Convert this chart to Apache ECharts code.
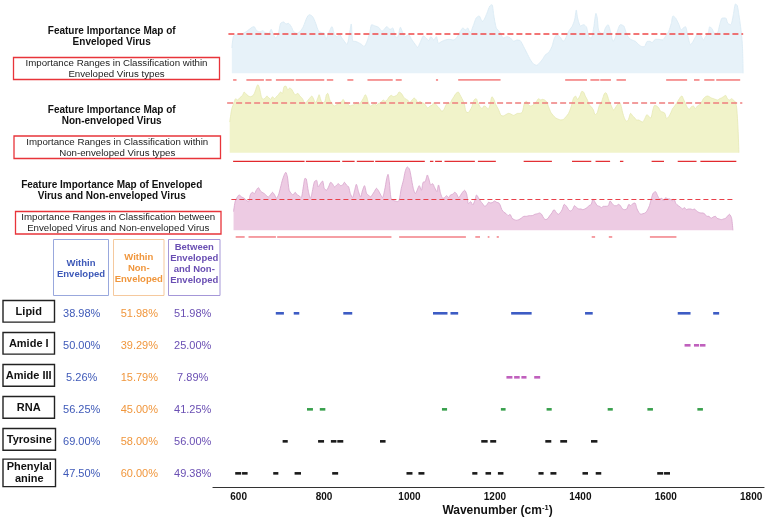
<!DOCTYPE html>
<html><head><meta charset="utf-8">
<script src="https://cdn.jsdelivr.net/npm/echarts@6/dist/echarts.min.js"></script>
<style>html,body{margin:0;padding:0;background:#fff}#c{width:767px;height:522px}</style>
</head><body><div id="c"></div>
<script>
// ---------- DATA ----------
const envCurve = [[584,38],[588,56],[595,58],[607,59],[619,63],[631,69],[636,70],[642,64],[650,62],[656,64],[662,61],[670,60],[676,66],[681,58],[687,53],[693,60],[698,75],[705,77],[711,74],[716,75],[723,70],[728,63],[736,60],[744,63],[751,70],[759,83],[765,88],[773,85],[780,75],[787,63],[794,61],[800,60],[804,51],[810,60],[818,70],[823,60],[829,55],[836,58],[841,53],[847,48],[853,43],[859,60],[863,74],[867,48],[872,48],[880,46],[888,43],[893,40],[900,48],[906,60],[911,73],[919,71],[927,69],[935,63],[940,66],[946,70],[954,66],[960,68],[966,55],[971,54],[978,69],[984,60],[989,55],[997,58],[1005,50],[1013,43],[1018,39],[1024,46],[1032,56],[1038,53],[1044,49],[1049,55],[1056,50],[1062,55],[1067,45],[1075,48],[1083,50],[1091,51],[1102,50],[1110,54],[1118,63],[1124,68],[1130,65],[1135,68],[1141,61],[1149,73],[1155,83],[1162,86],[1169,78],[1174,81],[1180,90],[1187,101],[1192,103],[1196,88],[1202,68],[1210,62],[1219,53],[1227,55],[1235,53],[1243,48],[1250,50],[1258,49],[1266,40],[1274,30],[1282,20],[1289,14],[1296,12],[1301,14],[1309,20],[1317,28],[1324,31],[1332,40],[1338,53],[1344,58],[1352,54],[1358,48],[1363,51],[1371,63],[1379,70],[1385,80],[1389,95],[1392,83],[1399,71],[1406,73],[1413,69],[1418,55],[1424,53],[1430,70],[1435,90],[1438,83],[1441,65],[1447,60],[1452,60],[1457,68],[1463,73],[1469,63],[1475,48],[1480,53],[1486,65],[1492,73],[1500,71],[1506,60],[1512,53],[1519,50],[1527,48],[1535,43],[1543,40],[1548,40],[1555,48],[1561,48],[1566,46],[1574,51],[1582,51],[1590,50],[1597,55],[1605,63],[1611,75],[1615,86],[1621,83],[1629,73],[1634,65],[1639,68],[1644,70],[1650,55],[1656,43],[1662,48],[1668,55],[1673,60],[1679,58],[1686,50],[1691,55],[1697,60],[1701,70],[1707,66],[1712,60],[1718,60],[1725,75],[1730,83],[1738,83],[1743,75],[1750,73],[1756,88],[1761,104],[1765,102],[1769,88],[1773,70],[1777,45],[1779,0]];
const nonCurve = [[579,46],[584,66],[589,75],[593,81],[597,79],[602,82],[609,86],[613,91],[616,89],[623,85],[628,84],[634,86],[638,91],[642,99],[645,102],[649,96],[653,84],[657,80],[662,82],[666,85],[671,82],[675,80],[679,84],[684,81],[688,84],[693,87],[698,91],[702,89],[706,99],[710,100],[715,94],[719,97],[724,95],[729,89],[733,87],[738,89],[743,85],[749,81],[755,74],[760,77],[765,81],[771,85],[776,79],[780,75],[785,82],[788,87],[792,79],[796,75],[801,76],[805,87],[808,89],[813,79],[818,74],[823,70],[829,72],[835,75],[840,76],[844,80],[849,75],[854,74],[860,70],[864,71],[870,72],[875,75],[880,72],[886,76],[891,81],[896,87],[899,84],[903,75],[908,70],[913,72],[918,74],[922,71],[927,74],[932,75],[938,79],[942,77],[948,80],[952,84],[957,86],[961,84],[966,85],[971,87],[975,91],[980,89],[985,84],[989,81],[995,79],[1000,75],[1005,79],[1010,82],[1014,80],[1019,75],[1024,77],[1028,75],[1033,74],[1038,70],[1042,67],[1047,70],[1052,71],[1056,75],[1061,72],[1066,69],[1070,66],[1075,62],[1080,65],[1084,71],[1089,75],[1094,74],[1098,79],[1103,84],[1108,89],[1113,91],[1117,87],[1122,81],[1127,74],[1131,62],[1136,60],[1141,64],[1145,69],[1150,79],[1155,81],[1159,75],[1164,69],[1169,66],[1173,70],[1178,69],[1183,65],[1187,71],[1192,84],[1197,79],[1201,72],[1207,65],[1213,56],[1218,55],[1224,57],[1231,59],[1236,58],[1242,56],[1246,57],[1252,59],[1257,59],[1263,61],[1268,75],[1273,77],[1277,72],[1282,70],[1287,71],[1292,74],[1296,77],[1301,81],[1306,79],[1310,80],[1315,79],[1320,76],[1324,69],[1330,60],[1335,56],[1341,52],[1348,50],[1353,49],[1359,50],[1365,54],[1371,59],[1377,69],[1382,81],[1387,85],[1392,80],[1398,86],[1402,92],[1406,91],[1410,85],[1415,79],[1419,72],[1424,69],[1429,64],[1433,57],[1438,60],[1443,71],[1448,76],[1452,84],[1455,89],[1458,90],[1462,85],[1466,77],[1471,70],[1476,64],[1480,67],[1485,72],[1490,75],[1493,72],[1497,61],[1502,51],[1507,47],[1511,50],[1516,59],[1521,55],[1526,52],[1530,49],[1535,49],[1540,47],[1544,46],[1549,51],[1554,57],[1558,55],[1563,52],[1568,64],[1572,71],[1577,70],[1582,67],[1586,62],[1591,61],[1596,59],[1600,51],[1605,54],[1610,60],[1614,66],[1619,70],[1624,75],[1628,79],[1633,84],[1636,85],[1639,81],[1644,74],[1649,67],[1653,65],[1658,69],[1663,70],[1667,66],[1672,70],[1677,72],[1682,76],[1686,81],[1691,84],[1696,85],[1700,84],[1705,82],[1710,81],[1714,80],[1719,79],[1724,81],[1728,82],[1733,84],[1738,86],[1742,81],[1747,79],[1752,81],[1756,79],[1761,76],[1764,66],[1767,36],[1769,0]];
const betweenCurve = [[588,28],[592,44],[597,50],[601,53],[607,50],[613,48],[618,45],[623,43],[627,53],[632,57],[637,55],[641,60],[646,64],[651,59],[655,57],[660,55],[665,52],[669,50],[674,53],[679,57],[684,53],[688,48],[693,53],[698,65],[702,75],[707,84],[710,87],[714,80],[718,60],[723,55],[727,53],[732,57],[737,53],[741,52],[746,49],[751,65],[755,78],[758,77],[763,58],[768,48],[772,58],[777,73],[782,75],[786,65],[791,70],[796,74],[800,63],[805,60],[810,65],[815,72],[819,70],[824,65],[829,68],[833,70],[838,67],[843,68],[847,72],[852,68],[857,65],[861,55],[866,49],[871,60],[875,69],[880,58],[885,50],[889,59],[894,67],[899,55],[903,53],[908,50],[913,54],[917,58],[922,63],[927,59],[932,53],[936,49],[941,60],[946,78],[949,84],[952,73],[956,48],[961,45],[966,44],[971,43],[975,45],[980,63],[985,75],[989,88],[994,95],[999,92],[1003,80],[1008,63],[1013,55],[1017,60],[1022,67],[1027,60],[1031,72],[1036,73],[1041,83],[1044,78],[1049,68],[1053,70],[1058,64],[1063,58],[1067,68],[1072,55],[1077,48],[1081,49],[1086,52],[1091,49],[1095,53],[1100,54],[1105,57],[1109,55],[1114,49],[1119,53],[1123,57],[1128,60],[1133,54],[1137,40],[1142,43],[1147,38],[1152,45],[1156,53],[1161,48],[1166,43],[1170,40],[1175,36],[1180,38],[1184,42],[1189,41],[1194,42],[1198,44],[1203,42],[1208,41],[1211,38],[1215,31],[1220,27],[1225,25],[1230,22],[1234,24],[1239,18],[1244,16],[1249,15],[1255,16],[1260,18],[1267,21],[1273,21],[1279,22],[1286,22],[1292,24],[1299,25],[1303,26],[1308,24],[1313,18],[1318,16],[1323,18],[1327,22],[1332,26],[1337,31],[1342,27],[1347,24],[1351,26],[1356,31],[1361,39],[1366,36],[1371,31],[1375,29],[1380,31],[1385,37],[1390,34],[1395,32],[1400,32],[1404,31],[1409,32],[1414,34],[1419,37],[1424,39],[1428,47],[1433,42],[1438,37],[1443,36],[1448,34],[1452,36],[1459,36],[1464,37],[1468,44],[1473,40],[1478,37],[1483,37],[1488,39],[1492,37],[1497,32],[1502,31],[1507,32],[1512,39],[1516,37],[1521,40],[1526,41],[1531,32],[1536,26],[1540,24],[1545,25],[1550,26],[1555,30],[1560,37],[1565,49],[1569,56],[1574,58],[1579,52],[1584,47],[1589,48],[1593,44],[1598,49],[1603,47],[1608,47],[1613,44],[1617,47],[1622,40],[1627,37],[1632,35],[1637,32],[1642,34],[1646,31],[1651,32],[1656,32],[1661,31],[1665,32],[1670,29],[1675,27],[1680,26],[1685,26],[1690,24],[1694,21],[1699,21],[1704,18],[1709,20],[1714,21],[1718,18],[1723,17],[1728,16],[1733,17],[1738,18],[1742,21],[1747,24],[1752,18],[1755,0]];

const envThreshold = 59, nonThreshold = 74.5, betweenThreshold = 46.5;
const envThresholdSpan = [576, 1779], nonThresholdSpan = [573, 1777], betweenThresholdSpan = [583, 1760];

const envRanges = [[587,595],[618,659],[663,677],[687,730],[733,800],[806,821],[854,868],[901,960],[967,981],[1061,1066],[1113,1212],[1363,1414],[1422,1443],[1445,1470],[1483,1505],[1599,1648],[1664,1677],[1688,1712],[1716,1772]];
const nonRanges = [[587,754],[757,837],[842,871],[876,916],[919,1035],[1047,1055],[1059,1075],[1081,1152],[1159,1201],[1266,1332],[1379,1424],[1434,1468],[1491,1499],[1565,1594],[1626,1670],[1679,1763]];
const betweenRanges = [[593,614],[623,687],[690,957],[975,1131],[1153,1164],[1182,1186],[1203,1208],[1425,1433],[1465,1473],[1561,1623]];

const rowLabels = ['Lipid','Amide I','Amide III','RNA','Tyrosine','Phenylal\nanine'];
const withinEnvPct = ['38.98%','50.00%','5.26%','56.25%','69.00%','47.50%'];
const withinNonPct = ['51.98%','39.29%','15.79%','45.00%','58.00%','60.00%'];
const betweenPct = ['51.98%','25.00%','7.89%','41.25%','56.00%','49.38%'];

const lipidRanges = [[687,706],[729,742],[845,866],[1055,1089],[1096,1114],[1238,1286],[1411,1429],[1628,1658],[1711,1725]];
const amideIRanges = [[1644,1658],[1666,1678],[1680,1693]];
const amideIIIRanges = [[1227,1241],[1245,1258],[1262,1274],[1292,1306]];
const rnaRanges = [[760,774],[790,803],[1076,1088],[1214,1225],[1321,1333],[1464,1476],[1557,1570],[1674,1687]];
const tyrosineRanges = [[703,715],[786,800],[816,829],[831,845],[931,944],[1168,1183],[1189,1203],[1318,1332],[1353,1369],[1425,1440]];
const pheRanges = [[592,606],[608,621],[681,693],[731,746],[819,833],[993,1007],[1021,1035],[1147,1159],[1178,1191],[1207,1220],[1302,1314],[1330,1344],[1405,1418],[1436,1449],[1580,1594],[1596,1610]];

const xTickStep = 200;
const titleTexts = ['Feature Importance Map of\nEnveloped Virus','Feature Importance Map of\nNon-enveloped Virus','Feature Importance Map of Enveloped\nVirus and Non-enveloped Virus'];
const captionTexts = ['Importance Ranges in Classification within\nEnveloped Virus types','Importance Ranges in Classification within\nNon-enveloped Virus types','Importance Ranges in Classification between\nEnveloped Virus and Non-enveloped Virus'];
const columnHeaders = ['Within\nEnveloped','Within\nNon-\nEnveloped','Between\nEnveloped\nand Non-\nEnveloped'];

// ---------- CHART ----------
const FONT = '"Liberation Sans", Arial, sans-serif';
const chart = echarts.init(document.getElementById('c'), null, {renderer:'canvas'});
const XMIN = 540, XMAX = 1830, GL = 213, GW = 552;

function rangeSeries(ranges, level, idx, color, width) {
  return {
    type:'custom', xAxisIndex: idx, yAxisIndex: idx, silent:true, clip:false,
    data: ranges.map(r => [r[0], r[1], level]),
    encode: {x:[0,1], y:2},
    renderItem: (p, api) => {
      const a = api.coord([api.value(0), api.value(2)]);
      const b = api.coord([api.value(1), api.value(2)]);
      return {type:'line', shape:{x1:a[0], y1:a[1], x2:b[0], y2:b[1]}, style:{stroke:color, lineWidth:width}};
    }
  };
}
function areaSeries(curve, idx, fill, edge, thr, span, dashColor, dashW, dashType) {
  return {
    type:'line', xAxisIndex: idx, yAxisIndex: idx, data: curve, smooth:0.25, symbol:'none', silent:true,
    lineStyle:{color: edge, width: 0.8}, areaStyle:{color: fill, opacity:1},
    markLine:{symbol:'none', silent:true, label:{show:false}, lineStyle:{color: dashColor, width: dashW, type: dashType},
      data:[[{coord:[span[0], thr]},{coord:[span[1], thr]}]]}
  };
}

const grids = [
  {left:GL, width:GW, top:3.3, height:78},
  {left:GL, width:GW, top:82.7, height:79.33},
  {left:GL, width:GW, top:160.3, height:78},
  {left:GL, width:GW, top:297.3, height:189.5}
];
const hiddenX = i => ({type:'value', gridIndex:i, min:XMIN, max:XMAX, show:false});
const option = {
  animation:false,
  grid: grids,
  xAxis: [hiddenX(0), hiddenX(1), hiddenX(2), {
    type:'value', gridIndex:3, min:XMIN, max:XMAX, interval:10,
    splitLine:{show:false}, axisTick:{show:false},
    axisLine:{show:true, onZero:false, lineStyle:{color:'#333', width:1.2}},
    axisLabel:{margin:5, color:'#111', fontWeight:'bold', fontSize:10, fontFamily:FONT,
      formatter: v => (v % xTickStep === 0 && v >= 600 && v <= 1800) ? String(v) : ''},
    name:'Wavenumber (cm{s|-1})', nameLocation:'middle', nameGap:17,
    nameTextStyle:{color:'#111', fontWeight:'bold', fontSize:12, fontFamily:FONT, padding:[0,0,0,18],
      rich:{s:{fontSize:7.5, fontWeight:'bold', fontFamily:FONT, verticalAlign:'top', padding:[0,0,6,0], color:'#111'}}}
  }],
  yAxis: [
    {type:'value', gridIndex:0, min:-12, max:105, show:false},
    {type:'value', gridIndex:1, min:-14, max:105, show:false},
    {type:'value', gridIndex:2, min:-12, max:105, show:false},
    {type:'value', gridIndex:3, min:-0.5, max:5.42, inverse:true, show:false}
  ],
  series: [
    areaSeries(envCurve, 0, '#e7f2f9', '#d8eaf4', envThreshold, envThresholdSpan, '#f04848', 1.5, [6,3]),
    areaSeries(nonCurve, 1, '#f1f3ca', '#e6e9b3', nonThreshold, nonThresholdSpan, '#ee7e7e', 1.5, [6,3]),
    areaSeries(betweenCurve, 2, '#edcbe3', '#d7a3cb', betweenThreshold, betweenThresholdSpan, '#e8404a', 1, [5,3]),
    rangeSeries(envRanges, -10, 0, '#f58e8e', 1.8),
    rangeSeries(nonRanges, -13, 1, '#e2282c', 1.2),
    rangeSeries(betweenRanges, -10, 2, '#f27f86', 1.5),
    rangeSeries(lipidRanges, 0, 3, '#3d5cc4', 2.6),
    rangeSeries(amideIRanges, 1, 3, '#c060bd', 2.6),
    rangeSeries(amideIIIRanges, 2, 3, '#c060bd', 2.6),
    rangeSeries(rnaRanges, 3, 3, '#38a04c', 2.6),
    rangeSeries(tyrosineRanges, 4, 3, '#1a1a1a', 2.6),
    rangeSeries(pheRanges, 5, 3, '#1a1a1a', 2.6)
  ]
};
chart.setOption(option);

// ---------- ANNOTATIONS ----------
const g = [];
const titleY = [37.2, 115.3, 191.2];
titleTexts.forEach((t, i) => g.push({type:'text', silent:true, style:{text:t, x:111.7, y:titleY[i], align:'center', verticalAlign:'middle',
  fontSize:10, fontWeight:'bold', fontFamily:FONT, lineHeight:11, fill:'#111'}}));
const capBox = [[13.5,57.5,206,22],[14,136,206.5,22.5],[15.5,211.5,205.5,22.5]];
captionTexts.forEach((t, i) => {
  const b = capBox[i];
  g.push({type:'rect', silent:true, shape:{x:b[0], y:b[1], width:b[2], height:b[3]}, style:{fill:'#fff', stroke:'#e8343a', lineWidth:1.3}});
  g.push({type:'text', silent:true, style:{text:t, x:b[0]+b[2]/2, y:b[1]+b[3]/2+0.3, align:'center', verticalAlign:'middle',
    fontSize:9.7, fontFamily:FONT, lineHeight:11.3, fill:'#222'}});
});
const colColor = ['#3e59b8','#f0963c','#6a4fb3'];
const colBorder = ['#99a8dd','#f5c99e','#a597d8'];
const colBox = [[53.5,55],[113.5,50.5],[168.5,51.5]];
const colTextY = [268.8, 268, 264];
columnHeaders.forEach((t, i) => {
  g.push({type:'rect', silent:true, shape:{x:colBox[i][0], y:239.5, width:colBox[i][1], height:56}, style:{fill:'#fff', stroke:colBorder[i], lineWidth:1}});
  g.push({type:'text', silent:true, style:{text:t, x:colBox[i][0]+colBox[i][1]/2, y:colTextY[i], align:'center', verticalAlign:'middle',
    fontSize:9.5, fontWeight:'bold', fontFamily:FONT, lineHeight:11, fill:colColor[i]}});
});
const colX = [81.7, 139.3, 192.7];
const pctCols = [withinEnvPct, withinNonPct, betweenPct];
rowLabels.forEach((lab, i) => {
  const y = chart.convertToPixel({yAxisIndex:3}, i);
  const two = lab.indexOf('\n') >= 0;
  const h = two ? 27.5 : 21.7;
  const w = i >= 4 ? 52.5 : 51.5;
  const cy = two ? y - 0.5 : y - 2;
  g.push({type:'rect', silent:true, shape:{x:3, y:cy - h/2, width:w, height:h}, style:{fill:'#fff', stroke:'#222', lineWidth:1.4}});
  g.push({type:'text', silent:true, style:{text:lab, x:3 + w/2, y:cy + 0.5, align:'center', verticalAlign:'middle',
    fontSize:11, fontWeight:'bold', fontFamily:FONT, lineHeight:12, fill:'#111'}});
  pctCols.forEach((col, j) => g.push({type:'text', silent:true, style:{text:col[i], x:colX[j], y:y + 0.5, align:'center', verticalAlign:'middle',
    fontSize:11, fontFamily:FONT, fill:colColor[j]}}));
});
chart.setOption({graphic: g});
</script>
</body></html>
